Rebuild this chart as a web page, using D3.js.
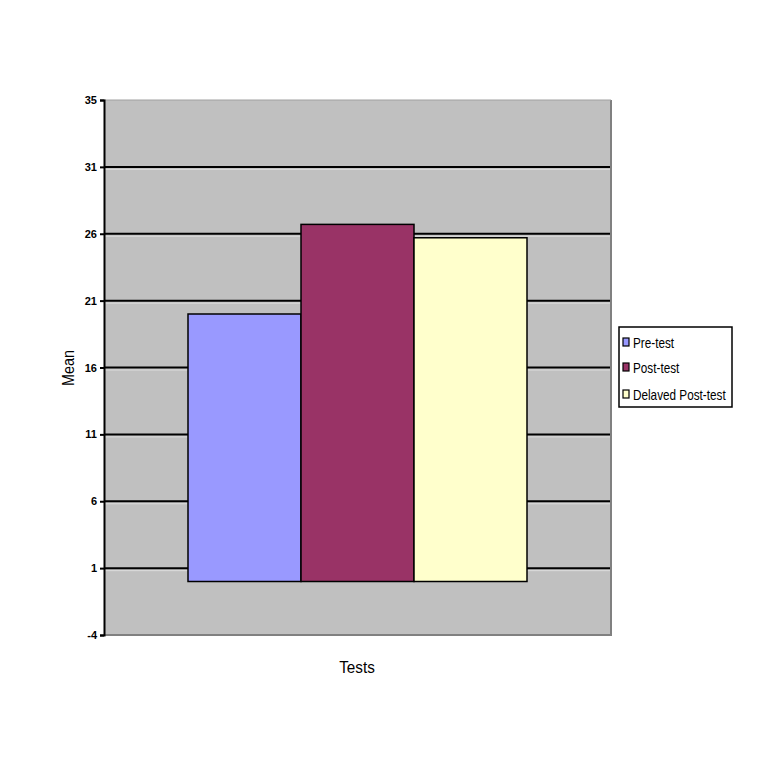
<!DOCTYPE html>
<html>
<head>
<meta charset="utf-8">
<script src="https://cdn.jsdelivr.net/npm/d3@7"></script>
<style>
  body { margin: 0; background: #fff; }
  svg { display: block; font-family: "Liberation Sans", Arial, sans-serif; }
</style>
</head>
<body>
<svg id="chart" width="768" height="768"></svg>
<script>
const categories = ["Pre-test", "Post-test", "Delaved Post-test"];
const values = [20.0, 26.7, 25.7];
const colors = ["#9999ff", "#993366", "#ffffcc"];
const tickValues = [-4, 1, 6, 11, 16, 21, 26, 31, 36];
const tickLabels = ["-4", "1", "6", "11", "16", "21", "26", "31", "35"];

const svg = d3.select("#chart");
const plot = { left: 104, right: 611, top: 100, bottom: 635 };

const y = d3.scaleLinear().domain([-4, 36]).range([plot.bottom, plot.top]);
const x = d3.scaleBand().domain(categories).range([188, 527]).padding(0);

// plot background
svg.append("rect")
  .attr("x", plot.left).attr("y", plot.top)
  .attr("width", plot.right - plot.left).attr("height", plot.bottom - plot.top)
  .attr("fill", "#c0c0c0");

// gridlines with light highlight below
const grid = svg.append("g");
tickValues.filter(v => v > -4 && v < 36).forEach(v => {
  grid.append("line")
    .attr("x1", plot.left).attr("x2", plot.right)
    .attr("y1", y(v) + 2.5).attr("y2", y(v) + 2.5)
    .attr("stroke", "#dcdcdc").attr("stroke-width", 1);
  grid.append("line")
    .attr("x1", plot.left).attr("x2", plot.right)
    .attr("y1", y(v)).attr("y2", y(v))
    .attr("stroke", "#000").attr("stroke-width", 2);
});

// plot border (right and bottom darker grey)
svg.append("path")
  .attr("d", `M${plot.left},${plot.bottom}H${plot.right}V${plot.top}`)
  .attr("fill", "none").attr("stroke", "#808080").attr("stroke-width", 2);
svg.append("line")
  .attr("x1", plot.left).attr("x2", plot.right)
  .attr("y1", plot.top).attr("y2", plot.top)
  .attr("stroke", "#a0a0a0").attr("stroke-width", 1);

// bars
svg.append("g").selectAll("rect")
  .data(categories)
  .join("rect")
  .attr("x", d => x(d))
  .attr("width", x.bandwidth())
  .attr("y", (d, i) => y(values[i]))
  .attr("height", (d, i) => y(0) - y(values[i]))
  .attr("fill", (d, i) => colors[i])
  .attr("stroke", "#000").attr("stroke-width", 1.5);

// y axis
const yAxis = d3.axisLeft(y)
  .tickValues(tickValues)
  .tickSize(4)
  .tickFormat((d, i) => tickLabels[i]);
const ag = svg.append("g")
  .attr("transform", `translate(${plot.left},0)`)
  .call(yAxis);
ag.select(".domain").attr("stroke", "#000").attr("stroke-width", 2);
ag.selectAll(".tick line").attr("stroke", "#000").attr("stroke-width", 2);
ag.selectAll(".tick text")
  .attr("x", -7)
  .attr("font-size", 11)
  .attr("font-weight", "bold")
  .attr("fill", "#000");

// axis titles
svg.append("g")
  .attr("transform", "translate(74,368) rotate(-90) scale(0.9,1)")
  .append("text")
  .attr("text-anchor", "middle")
  .attr("font-size", 16)
  .attr("fill", "#000")
  .text("Mean");

svg.append("g")
  .attr("transform", "translate(357,673) scale(0.9,1)")
  .append("text")
  .attr("text-anchor", "middle")
  .attr("font-size", 17)
  .attr("fill", "#000")
  .text("Tests");

// legend
const lg = svg.append("g");
lg.append("rect")
  .attr("x", 619).attr("y", 327).attr("width", 113).attr("height", 80)
  .attr("fill", "#fff").attr("stroke", "#000").attr("stroke-width", 1.5);
const ly = [343, 368, 395];
categories.forEach((c, i) => {
  lg.append("rect")
    .attr("x", 623).attr("y", ly[i] - 5).attr("width", 6).attr("height", 8)
    .attr("fill", colors[i]).attr("stroke", "#000").attr("stroke-width", 1.2);
  lg.append("g")
    .attr("transform", `translate(633,${ly[i] + 5}) scale(0.84,1)`)
    .append("text")
    .attr("font-size", 14)
    .attr("fill", "#000")
    .text(c);
});
</script>
</body>
</html>
